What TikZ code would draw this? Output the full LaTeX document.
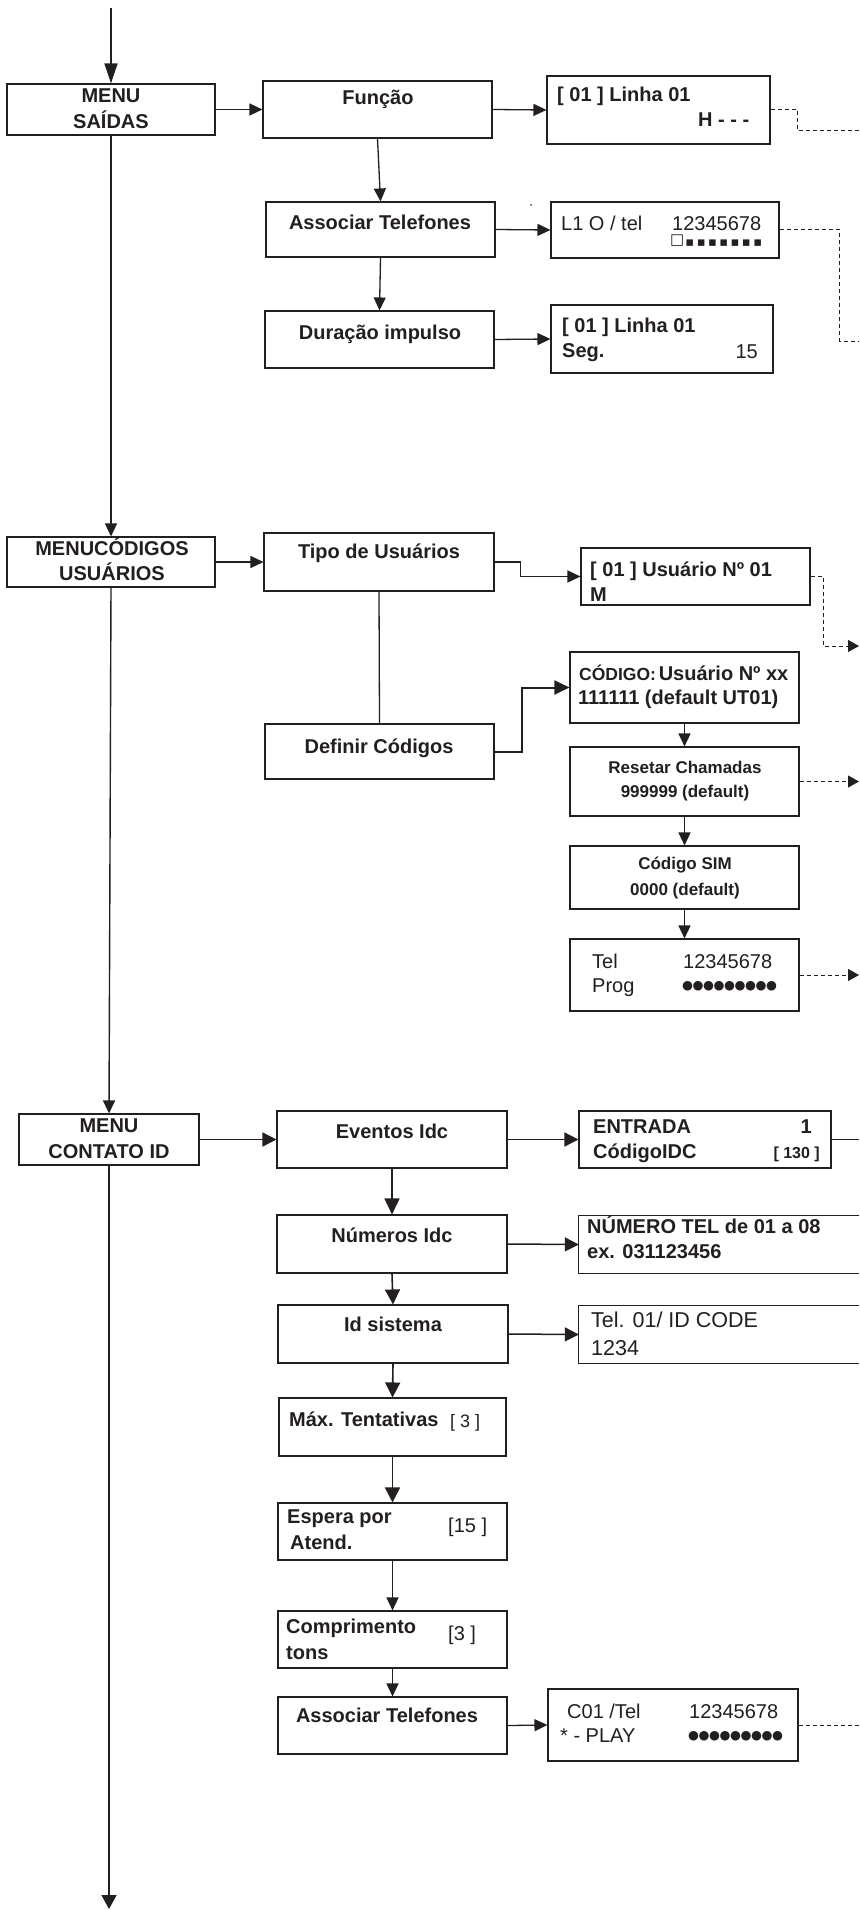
\documentclass[tikz,border=0pt]{standalone}
\usepackage{fontspec}
\setmainfont{Liberation Sans}
\newfontfamily\symf{DejaVu Sans}
\usetikzlibrary{arrows.meta,fit}
\definecolor{ink}{HTML}{231F20}
\newcommand\fsz[1]{\fontsize{#1}{#1}\selectfont}
\newcommand\dd{\makebox[10.5pt]{●}}
\newcommand\sq{\makebox[11.3pt]{▪}}
\tikzset{
  box/.style={draw=ink, line width=1.1pt, inner sep=0pt},
  tx/.style={inner sep=0pt, text=ink, font=\fsz{20}\bfseries},
  txr/.style={inner sep=0pt, text=ink, font=\fsz{20}},
  txs/.style={inner sep=0pt, text=ink, font=\fsz{17}\bfseries},
  lcdsym/.style={inner sep=0pt, text=ink, font=\symf\fsz{12.5}},
  conn/.style={draw=ink, line width=1.3pt},
  arr/.style={conn, -{Triangle[length=13pt,width=12pt]}},
  dsh/.style={draw=ink, line width=1pt, dash pattern=on 4pt off 3pt},
  darr/.style={dsh, -{Triangle[length=11pt,width=12pt]}},
}
\begin{document}
\begin{tikzpicture}[x=1pt,y=-1pt]
\fill[white] (0,0) rectangle (859,1910);
\useasboundingbox (0,0) rectangle (859,1910);

% ---------- boxes ----------
\node[box, fit={(7,84)(215,135)}] (msaidas) {};
\node[box, fit={(263,81)(492,138)}] (funcao) {};
\node[box, fit={(266,202)(495,257)}] (assoc1) {};
\node[box, fit={(265,311)(494,368)}] (duracao) {};
\node[box, fit={(547,76)(770,144)}] (linha) {};
\node[box, fit={(551,202)(779,258)}] (ltel) {};
\node[box, fit={(551,305)(773,373)}] (durlcd) {};
\node[box, fit={(7,537)(215,587)}] (mcod) {};
\node[box, fit={(264,533)(494,591)}] (tipo) {};
\node[box, fit={(265,724)(494,779)}] (definir) {};
\node[box, fit={(581,548)(810,605)}] (usuario) {};
\node[box, fit={(570,652)(799,723)}] (codigo) {};
\node[box, fit={(570,747)(799,816)}] (resetar) {};
\node[box, fit={(570,846)(799,909)}] (sim) {};
\node[box, fit={(570,939)(799,1011)}] (telprog) {};
\node[box, fit={(19,1114)(199,1165)}] (mcid) {};
\node[box, fit={(277,1111)(507,1168)}] (eventos) {};
\node[box, fit={(579,1111)(831,1168)}] (entrada) {};
\node[box, fit={(277,1215)(507,1273)}] (numeros) {};
\node[inner sep=0pt, fit={(579,1216)(859,1273)}] (numtel) {};
\node[box, fit={(278,1305)(508,1363)}] (idsis) {};
\node[inner sep=0pt, fit={(579,1306)(859,1363)}] (telid) {};
\node[box, fit={(279,1398)(506,1456)}] (maxt) {};
\node[box, fit={(278,1503)(507,1560)}] (espera) {};
\node[box, fit={(278,1611)(507,1668)}] (compr) {};
\node[box, fit={(278,1697)(507,1754)}] (assoc2) {};
\node[box, fit={(548,1689)(798,1761)}] (c01) {};
\draw[box] (numtel.north east) -- (numtel.north west) -- (numtel.south west) -- (numtel.south east);
\draw[box] (telid.north east) -- (telid.north west) -- (telid.south west) -- (telid.south east);

% ---------- texts ----------
\node[tx, anchor=base] (tms1) at (111,103) {MENU};
\node[tx, anchor=base] (tms2) at (111,129) {SAÍDAS};
\node[tx, anchor=base] (tfu) at (378,105) {Função};
\node[tx, anchor=base] (tas1) at (380,230) {Associar Telefones};
\node[tx, anchor=base] (tdu) at (380,339) {Duração impulso};
\node[tx, anchor=base west] (tli1) at (557,102) {[ 01 ] Linha 01};
\node[tx, anchor=base west] (tli2) at (698,127) {H - - -};
\node[txr, anchor=base west] (tlt1) at (561,231) {L1 O / tel};
\node[txr, anchor=base west] (tlt2) at (672,231) {12345678};
\node[lcdsym, font=\symf\fsz{15}, anchor=south west] (tlt3) at (670,247) {□};
\node[lcdsym, font=\symf\fsz{13}, anchor=south west] (tlt4) at (684,247) {\sq\sq\sq\sq\sq\sq\sq};
\node[tx, anchor=base west] (tdl1) at (562,332) {[ 01 ] Linha 01};
\node[tx, anchor=base west] (tdl2) at (562,357) {Seg.};
\node[txr, anchor=base east] (tdl3) at (758,358) {15};

\node[tx, anchor=base] (tmc1) at (112,555) {MENUCÓDIGOS};
\node[tx, anchor=base] (tmc2) at (112,580) {USUÁRIOS};
\node[tx, anchor=base] (ttp) at (379,558) {Tipo de Usuários};
\node[tx, anchor=base] (tdf) at (379,753) {Definir Códigos};
\node[tx, anchor=base west] (tus1) at (590,576) {[ 01 ] Usuário Nº 01};
\node[tx, anchor=base west] (tus2) at (590,601) {M};
\node[inner sep=0pt, text=ink, anchor=base west] (tcd1) at (579,680) {{\fsz{17.5}\bfseries CÓDIGO:} {\fsz{20}\bfseries Usuário Nº xx}};
\node[tx, anchor=base west] (tcd2) at (578,704) {111111 (default UT01)};
\node[txs, anchor=base] (trs1) at (685,773) {Resetar Chamadas};
\node[txs, anchor=base] (trs2) at (685,797) {999999 (default)};
\node[txs, anchor=base] (tsm1) at (685,869) {Código SIM};
\node[txs, anchor=base] (tsm2) at (685,895) {0000 (default)};
\node[txr, anchor=base west] (ttl1) at (592,968) {Tel};
\node[txr, anchor=base west] (ttl2) at (592,992) {Prog};
\node[txr, anchor=base west] (ttl3) at (683,968) {12345678};
\node[lcdsym, anchor=west] (ttl4) at (682,986) {\dd\dd\dd\dd\dd\dd\dd\dd\dd};

\node[tx, anchor=base] (tci1) at (109,1132) {MENU};
\node[tx, anchor=base] (tci2) at (109,1158) {CONTATO ID};
\node[tx, anchor=base] (tev) at (392,1138) {Eventos Idc};
\node[tx, anchor=base west] (ten1) at (593,1133) {ENTRADA};
\node[tx, anchor=base east] (ten2) at (812,1133) {1};
\node[tx, anchor=base west] (ten3) at (593,1158) {CódigoIDC};
\node[tx, font=\fsz{16}\bfseries, anchor=base east] (ten4) at (820,1158) {[ 130 ]};
\node[tx, anchor=base] (tnu) at (392,1242) {Números Idc};
\node[tx, anchor=base west] (tnt1) at (587,1233) {NÚMERO TEL de 01 a 08};
\node[tx, anchor=base west] (tnt2) at (587,1258) {ex. 031123456};
\node[tx, anchor=base] (tid) at (393,1331) {Id sistema};
\node[txr, font=\fsz{21.5}, anchor=base west] (tti1) at (591,1327) {Tel. 01/ ID CODE};
\node[txr, font=\fsz{21.5}, anchor=base west] (tti2) at (591,1355) {1234};
\node[tx, anchor=base west] (tmx1) at (289,1426) {Máx. Tentativas};
\node[txr, font=\fsz{18}, anchor=base west] (tmx2) at (450,1427) {[ 3 ]};
\node[tx, anchor=base west] (tes1) at (287,1523) {Espera por};
\node[tx, anchor=base west] (tes2) at (290,1549) {Atend.};
\node[txr, anchor=base west] (tes3) at (448,1532) {[15 ]};
\node[tx, anchor=base west] (tco1) at (286,1633) {Comprimento};
\node[tx, anchor=base west] (tco2) at (286,1659) {tons};
\node[txr, anchor=base west] (tco3) at (448,1640) {[3 ]};
\node[tx, anchor=base] (tas2) at (387,1722) {Associar Telefones};
\node[txr, anchor=base west] (tc1) at (567,1718) {C01 /Tel};
\node[txr, anchor=base west] (tc2) at (560,1742) {* - PLAY};
\node[txr, anchor=base west] (tc3) at (689,1718) {12345678};
\node[lcdsym, anchor=west] (tc4) at (688,1736) {\dd\dd\dd\dd\dd\dd\dd\dd\dd};

% stray dot
\fill[ink] (531,205) circle[radius=0.8pt];

% ---------- free ends ----------
\coordinate (top) at (111,8);
\coordinate (bot) at (109,1909);
\coordinate (o1) at (859,131);
\coordinate (o2) at (859,341);
\coordinate (o3) at (859,646);
\coordinate (o4) at (859,781.5);
\coordinate (o5) at (859,975);
\coordinate (o6) at (859,1139.5);
\coordinate (o7) at (859,1725);

% ---------- connectors ----------
\draw[conn, line width=1.4pt, -{Triangle[length=20pt,width=13pt]}] (top) -- (msaidas.north);
\draw[arr, line width=1.4pt] (msaidas.south) -- (mcod.north);
\draw[arr, line width=1.4pt] (mcod.south) -- (mcid.north);
\draw[arr, line width=1.5pt, -{Triangle[length=14pt,width=15pt]}] (mcid.south) -- (bot);

\draw[arr] (msaidas.east) -- (funcao.west);
\draw[arr] (funcao.east) -- (linha.west);
\draw[arr] (funcao.south) -- (assoc1.north);
\draw[arr] (assoc1.south) -- (duracao.north);
\draw[arr] (assoc1.east) -- (ltel.west);
\draw[arr] (duracao.east) -- (durlcd.west);
\draw[dsh] (linha.east) -- ++(27,0) |- (o1);
\draw[dsh] (ltel.east) -- ++(60,0) |- (o2);

\draw[arr] (mcod.east) -- (tipo.west);
\draw[arr] (tipo.east) -- ++(26,0) |- (usuario.west);
\draw[darr] (usuario.east) -- ++(13,0) |- (o3);
\draw[conn] (tipo.south) -- (definir.north);
\draw[conn, line width=2pt, -{Triangle[length=15pt,width=14pt]}] (definir.east) -- ++(27,0) |- (codigo.west);
\draw[arr] (codigo.south) -- (resetar.north);
\draw[arr] (resetar.south) -- (sim.north);
\draw[arr] (sim.south) -- (telprog.north);
\draw[darr] (resetar.east) -- (o4);
\draw[darr] (telprog.east) -- (o5);

\draw[arr, line width=1.5pt, -{Triangle[length=14pt,width=14pt]}] (mcid.east) -- (eventos.west);
\draw[arr, line width=1.5pt, -{Triangle[length=14pt,width=14pt]}] (eventos.east) -- (entrada.west);
\draw[conn, line width=1.5pt] (entrada.east) -- (o6);
\draw[arr, line width=1.6pt, -{Triangle[length=16pt,width=15pt]}] (eventos.south) -- (numeros.north);
\draw[arr, line width=1.5pt, -{Triangle[length=14pt,width=14pt]}] (numeros.east) -- (numtel.west);
\draw[arr, line width=1.6pt, -{Triangle[length=15pt,width=15pt]}] (numeros.south) -- (idsis.north);
\draw[arr, line width=1.5pt, -{Triangle[length=14pt,width=14pt]}] (idsis.east) -- (telid.west);
\draw[arr, line width=1.6pt, -{Triangle[length=15pt,width=15pt]}] (idsis.south) -- (maxt.north);
\draw[arr, line width=1.6pt, -{Triangle[length=15pt,width=15pt]}] (maxt.south) -- (espera.north);
\draw[arr] (espera.south) -- (compr.north);
\draw[arr, line width=1.6pt] (compr.south) -- (assoc2.north);
\draw[arr] (assoc2.east) -- (c01.west);
\draw[dsh] (c01.east) -- (o7);
\end{tikzpicture}
\end{document}
